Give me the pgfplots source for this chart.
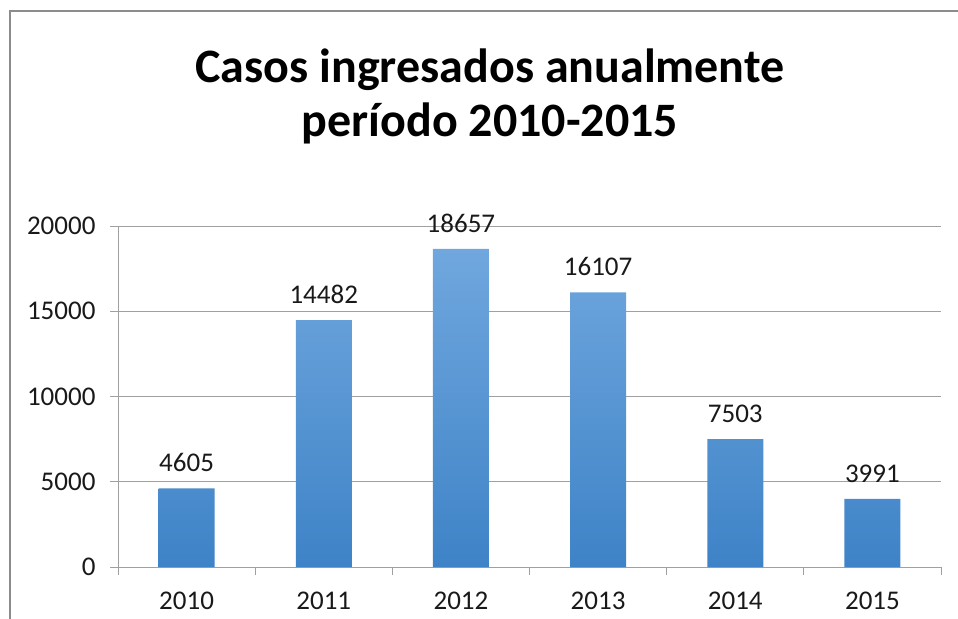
\documentclass[border=0pt]{standalone}
\usepackage{fontspec}
\setmainfont{Carlito}
\usepackage{pgfplots}
\pgfplotsset{compat=1.18}
\definecolor{barTop}{RGB}{112,167,222}
\definecolor{barBot}{RGB}{62,131,199}
\definecolor{gridc}{RGB}{160,160,160}
\definecolor{framec}{RGB}{140,140,140}
\definecolor{txt}{RGB}{25,25,25}
\begin{document}
\begin{tikzpicture}
\useasboundingbox (0,0) rectangle (958bp,-619bp);
\draw[framec, line width=1.5bp] (10bp,-619bp) -- (10bp,-11bp) -- (958bp,-11bp);
\node[anchor=base, inner sep=0pt, font=\fontsize{48bp}{56bp}\selectfont\bfseries] at (490bp,-82bp) {Casos ingresados anualmente};
\node[anchor=base, inner sep=0pt, font=\fontsize{48bp}{56bp}\selectfont\bfseries] at (490bp,-136bp) {período 2010-2015};
\begin{axis}[
  at={(118bp,-567bp)}, anchor=south west,
  scale only axis, width=823bp, height=341bp,
  xmin=-0.5, xmax=5.5, ymin=0, ymax=20000,
  axis lines*=left,
  axis line style={gridc, line width=1bp},
  ymajorgrids, grid style={gridc, line width=1bp},
  tick style={gridc, line width=1bp},
  tick align=outside, major tick length=8bp,
  scaled y ticks=false,
  ytick={0,5000,10000,15000,20000},
  xtick={-0.5,0.5,1.5,2.5,3.5,4.5,5.5},
  xticklabels={2010,2011,2012,2013,2014,2015,{}},
  xticklabel style={xshift=68.6bp, yshift=-13bp},
  yticklabel style={xshift=-11bp},
  tick label style={font=\fontsize{27bp}{32bp}\selectfont, text=txt},
  /pgf/number format/.cd, 1000 sep={}, assume math mode=true,
  /pgfplots/.cd,
  clip=false,
  nodes near coords,
  every node near coord/.append style={font=\fontsize{27bp}{32bp}\selectfont, text=txt, yshift=13bp, /pgf/number format/1000 sep={}, /pgf/number format/assume math mode=true},
]
\addplot[ybar, bar width=56bp, draw=none, top color=barTop, bottom color=barBot] coordinates {
  (0,4605) (1,14482) (2,18657) (3,16107) (4,7503) (5,3991)
};
\end{axis}
\end{tikzpicture}
\end{document}
